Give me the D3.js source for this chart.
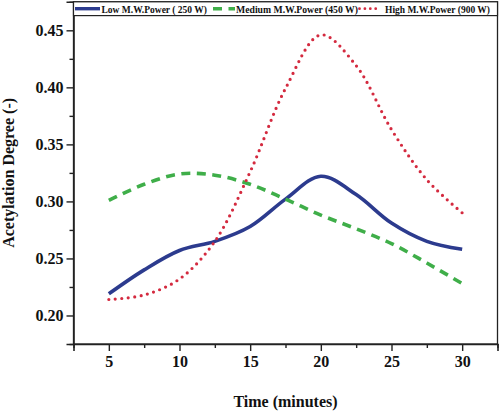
<!DOCTYPE html>
<html>
<head>
<meta charset="utf-8">
<script src="https://cdn.jsdelivr.net/npm/d3@7"></script>
<style>
  html, body { margin: 0; padding: 0; background: #fff; }
  svg text { font-family: "Liberation Serif", "Times New Roman", serif; font-weight: bold; fill: #111; }
</style>
</head>
<body>
<svg id="chart" width="500" height="413"></svg>
<script>
const times = [5, 7.5, 10, 12.5, 15, 17.5, 20, 22.5, 25, 27.5, 30];
const lowPower = [0.219, 0.240, 0.257, 0.265, 0.278, 0.302, 0.322, 0.306, 0.281, 0.265, 0.258];
const mediumPower = [0.301, 0.315, 0.324, 0.323, 0.315, 0.302, 0.288, 0.276, 0.263, 0.246, 0.228];
const highPower = [0.214, 0.218, 0.232, 0.265, 0.326, 0.399, 0.446, 0.419, 0.363, 0.319, 0.290];
const seriesNames = ["Low M.W.Power ( 250 W)", "Medium M.W.Power (450 W)", "High M.W.Power (900 W)"];
const xTicks = [5, 10, 15, 20, 25, 30];
const xMinorTicks = [2.5, 7.5, 12.5, 17.5, 22.5, 27.5, 32.5];
const yTicks = [0.20, 0.25, 0.30, 0.35, 0.40, 0.45];
const yMinorTicks = [0.175, 0.225, 0.275, 0.325, 0.375, 0.425, 0.475];
const xTitle = "Time (minutes)";
const yTitle = "Acetylation Degree (-)";

const svg = d3.select("#chart");
const L = 73.5, R = 497.5, T = 1.8, B = 344;
const x = d3.scaleLinear().domain([2.5, 32.5]).range([L, R]);
const y = d3.scaleLinear().domain([0.175, 0.475]).range([B, T]);

const series = [
  { name: seriesNames[0], values: lowPower, color: "#2c3b8e", dash: null, width: 3.6, cap: "butt" },
  { name: seriesNames[1], values: mediumPower, color: "#3fae49", dash: "9 6.5", width: 3.6, cap: "butt" },
  { name: seriesNames[2], values: highPower, color: "#d42a3f", dash: "0 6.5", width: 3.2, cap: "round" }
];

// frame
svg.append("rect").attr("x", L).attr("y", T).attr("width", R - L).attr("height", B - T)
  .attr("fill", "none").attr("stroke", "#222").attr("stroke-width", 1.3);

// lines
const line = d3.line().x(d => x(d[0])).y(d => y(d[1])).curve(d3.curveCatmullRom.alpha(0.5));
const plot = svg.append("g");
series.forEach(s => {
  plot.append("path")
    .datum(times.map((t, i) => [t, s.values[i]]))
    .attr("d", line)
    .attr("fill", "none")
    .attr("stroke", s.color)
    .attr("stroke-width", s.width)
    .attr("stroke-linecap", s.cap)
    .attr("stroke-dasharray", s.dash);
});

// axes
const xAxis = svg.append("g").attr("transform", `translate(0,${B})`)
  .call(d3.axisBottom(x).tickValues(xTicks).tickFormat(d3.format("d")).tickSize(7).tickPadding(5));
const xMinor = svg.append("g").attr("transform", `translate(0,${B})`)
  .call(d3.axisBottom(x).tickValues(xMinorTicks).tickFormat("").tickSize(4));
const yAxis = svg.append("g").attr("transform", `translate(${L},0)`)
  .call(d3.axisLeft(y).tickValues(yTicks).tickFormat(d3.format(".2f")).tickSize(7).tickPadding(3));
const yMinor = svg.append("g").attr("transform", `translate(${L},0)`)
  .call(d3.axisLeft(y).tickValues(yMinorTicks).tickFormat("").tickSize(4));
[xAxis, xMinor, yAxis, yMinor].forEach(g => {
  g.select(".domain").attr("stroke", "#222").attr("stroke-width", 1.6);
  g.selectAll(".tick line").attr("stroke", "#222").attr("stroke-width", 1.4);
  g.selectAll(".tick text").attr("font-size", 16).attr("font-family", "Liberation Serif, serif").attr("font-weight", "bold").attr("fill", "#111");
});
xMinor.select(".domain").remove();
yMinor.select(".domain").remove();

// axis titles
svg.append("text").attr("x", (L + R) / 2).attr("y", 407).attr("text-anchor", "middle")
  .attr("font-size", 16).text(xTitle);
svg.append("text").attr("transform", `translate(14,${(T + B) / 2}) rotate(-90)`).attr("text-anchor", "middle")
  .attr("font-size", 16).text(yTitle);

// legend
svg.append("rect").attr("x", L).attr("y", T).attr("width", R - L).attr("height", 13.8)
  .attr("fill", "#fff").attr("stroke", "#222").attr("stroke-width", 1.2);
const legendItems = [
  { x1: 75, x2: 100, tx: 101.5, tw: 105.5 },
  { x1: 213, x2: 235, tx: 236, tw: 122 },
  { x1: 359.5, x2: 380, tx: 385, tw: 105 }
];
series.forEach((s, i) => {
  const li = legendItems[i];
  const ly = 8.7;
  svg.append("line").attr("x1", li.x1).attr("x2", li.x2).attr("y1", ly).attr("y2", ly)
    .attr("stroke", s.color).attr("stroke-width", i === 2 ? 2.8 : 3.4)
    .attr("stroke-linecap", s.cap).attr("stroke-dasharray", i === 2 ? "0 5.4" : s.dash);
  svg.append("text").attr("x", li.tx).attr("y", 12.6).attr("font-size", 10.5)
    .attr("textLength", li.tw).attr("lengthAdjust", "spacingAndGlyphs").text(s.name);
});
</script>
</body>
</html>
